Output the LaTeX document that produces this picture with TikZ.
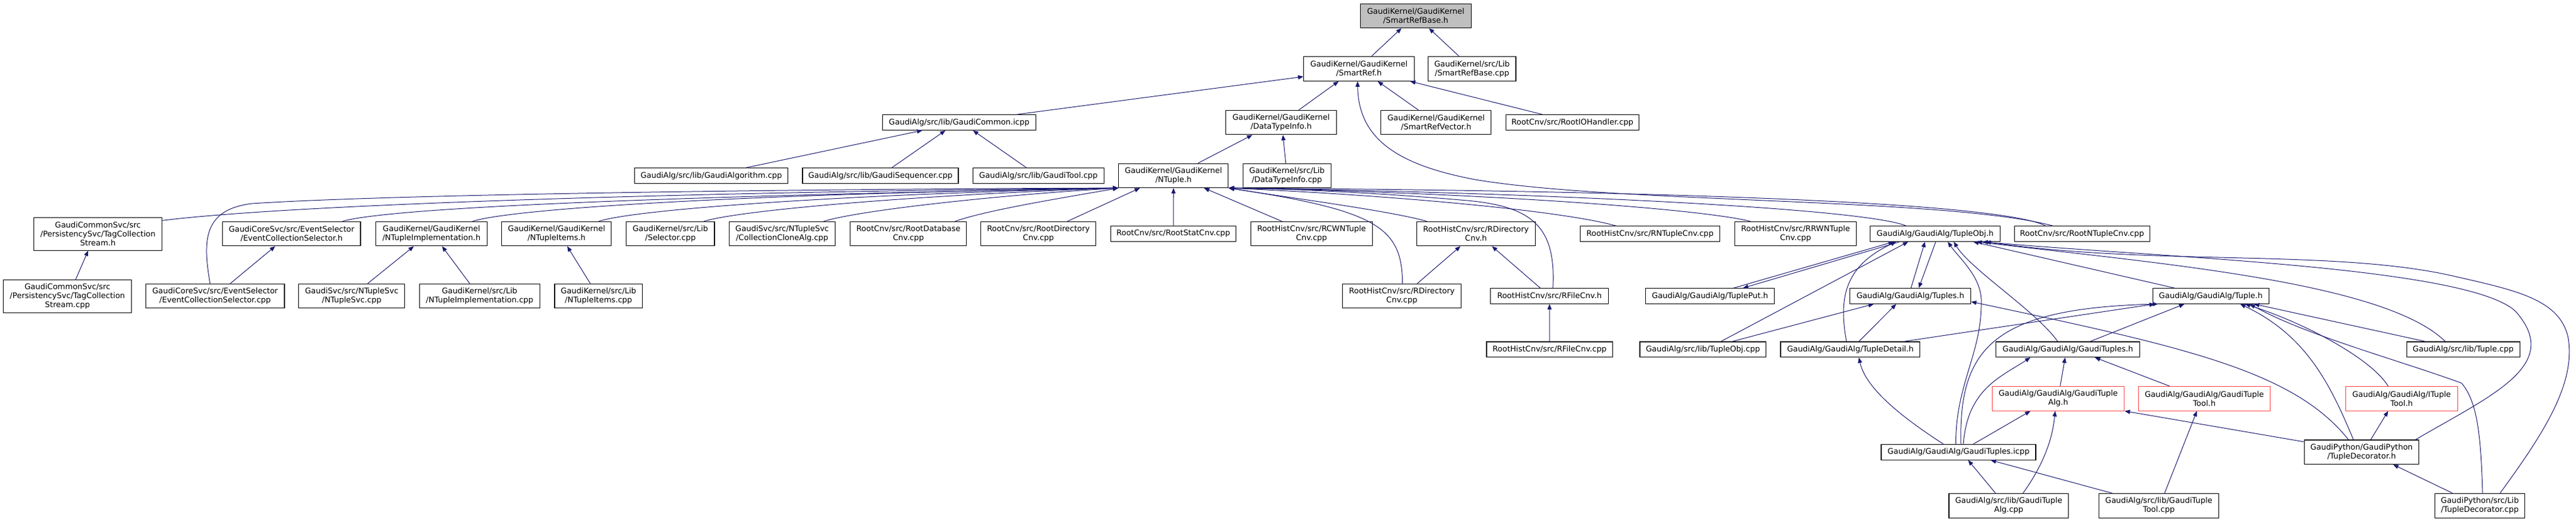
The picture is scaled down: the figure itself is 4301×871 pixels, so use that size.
\documentclass[tikz,border=0pt]{standalone}
\usepackage{fontspec}
\setmainfont{DejaVu Sans}
\usetikzlibrary{arrows.meta}

\definecolor{edgeblue}{HTML}{191970}
\definecolor{truncred}{HTML}{FF4040}
\definecolor{rootgray}{HTML}{BFBFBF}

\tikzset{
  box/.style={draw=black,line width=1.1pt,fill=white,inner sep=0pt,align=center,
    font=\fontsize{13}{15}\selectfont},
  one/.style={minimum height=25.6pt},
  two/.style={minimum height=40.5pt},
  three/.style={minimum height=54.7pt},
  cut/.style={draw=truncred},
  dep/.style={draw=edgeblue,line width=1pt,-{Triangle[length=9pt,width=7pt]}},
}

\begin{document}
\begin{tikzpicture}[x=1pt,y=-1pt]
      \useasboundingbox (0,0) rectangle (4301,871);
      % top: the file itself and its direct includers
      \node[box,two,fill=rootgray,minimum width=184.5pt] (smartrefbaseh) at (2363.8,26.3) {GaudiKernel/GaudiKernel\\/SmartRefBase.h};
      \node[box,two,minimum width=184.5pt] (smartrefh) at (2269,115) {GaudiKernel/GaudiKernel\\/SmartRef.h};
      \node[box,two,minimum width=146.6pt] (smartrefbasecpp) at (2457.7,115) {GaudiKernel/src/Lib\\/SmartRefBase.cpp};
      % second level
      \node[box,one,minimum width=256pt] (gaudicommon) at (1601.5,204.5) {GaudiAlg/src/lib/GaudiCommon.icpp};
      \node[box,two,minimum width=184.5pt] (datatypeinfoh) at (2139,204.6) {GaudiKernel/GaudiKernel\\/DataTypeInfo.h};
      \node[box,two,minimum width=183.8pt] (smartrefvector) at (2397.8,204.6) {GaudiKernel/GaudiKernel\\/SmartRefVector.h};
      \node[box,one,minimum width=222.4pt] (rootiohandler) at (2625.4,204.5) {RootCnv/src/RootIOHandler.cpp};
      % third level
      \node[box,one,minimum width=256pt] (gaudialgorithm) at (1187.6,293.5) {GaudiAlg/src/lib/GaudiAlgorithm.cpp};
      \node[box,one,minimum width=260pt] (gaudisequencer) at (1470,293.5) {GaudiAlg/src/lib/GaudiSequencer.cpp};
      \node[box,one,minimum width=219pt] (gauditool) at (1733.8,293.5) {GaudiAlg/src/lib/GaudiTool.cpp};
      \node[box,two,minimum width=183pt] (ntupleh) at (1959.3,293.3) {GaudiKernel/GaudiKernel\\/NTuple.h};
      \node[box,two,minimum width=147.3pt] (datatypeinfocpp) at (2148.7,293.3) {GaudiKernel/src/Lib\\/DataTypeInfo.cpp};
      % includers of NTuple.h
      \node[box,three,minimum width=214.7pt] (tagstreamh) at (163.5,390.7) {GaudiCommonSvc/src\\/PersistencySvc/TagCollection\\Stream.h};
      \node[box,two,minimum width=230.1pt] (evtselh) at (486.9,390.5) {GaudiCoreSvc/src/EventSelector\\/EventCollectionSelector.h};
      \node[box,two,minimum width=186.6pt] (ntupleimplh) at (720.4,390.5) {GaudiKernel/GaudiKernel\\/NTupleImplementation.h};
      \node[box,two,minimum width=183.1pt] (ntupleitemsh) at (929.2,390.5) {GaudiKernel/GaudiKernel\\/NTupleItems.h};
      \node[box,two,minimum width=147.3pt] (selectorcpp) at (1119.3,390.5) {GaudiKernel/src/Lib\\/Selector.cpp};
      \node[box,two,minimum width=176.8pt] (clonealg) at (1305.9,390.5) {GaudiSvc/src/NTupleSvc\\/CollectionCloneAlg.cpp};
      \node[box,two,minimum width=194.3pt] (rootdbcnv) at (1516.7,390.5) {RootCnv/src/RootDatabase\\Cnv.cpp};
      \node[box,two,minimum width=192.2pt] (rootdircnv) at (1733.8,390.5) {RootCnv/src/RootDirectory\\Cnv.cpp};
      \node[box,one,minimum width=209.1pt] (rootstatcnv) at (1959,390.5) {RootCnv/src/RootStatCnv.cpp};
      \node[box,two,minimum width=202.7pt] (rcwntuple) at (2189.8,390.5) {RootHistCnv/src/RCWNTuple\\Cnv.cpp};
      \node[box,two,minimum width=197.8pt] (rdircnvh) at (2464.4,390.5) {RootHistCnv/src/RDirectory\\Cnv.h};
      \node[box,one,minimum width=232.9pt] (rntuplecnv) at (2754.9,390.5) {RootHistCnv/src/RNTupleCnv.cpp};
      \node[box,two,minimum width=203.1pt] (rrwntuple) at (2998,390.5) {RootHistCnv/src/RRWNTuple\\Cnv.cpp};
      \node[box,one,minimum width=216.5pt] (tupleobjh) at (3231,390.5) {GaudiAlg/GaudiAlg/TupleObj.h};
      \node[box,one,minimum width=225.7pt] (rootntuplecnv) at (3476.2,390.5) {RootCnv/src/RootNTupleCnv.cpp};
      % fifth level
      \node[box,three,minimum width=214pt] (tagstreamcpp) at (112.6,494.7) {GaudiCommonSvc/src\\/PersistencySvc/TagCollection\\Stream.cpp};
      \node[box,two,minimum width=231.5pt] (evtselcpp) at (359.2,494.5) {GaudiCoreSvc/src/EventSelector\\/EventCollectionSelector.cpp};
      \node[box,two,minimum width=176.8pt] (ntuplesvccpp) at (587.2,494.5) {GaudiSvc/src/NTupleSvc\\/NTupleSvc.cpp};
      \node[box,two,minimum width=201.3pt] (ntupleimplcpp) at (800.8,494.5) {GaudiKernel/src/Lib\\/NTupleImplementation.cpp};
      \node[box,two,minimum width=146.6pt] (ntupleitemscpp) at (999.3,494.5) {GaudiKernel/src/Lib\\/NTupleItems.cpp};
      \node[box,two,minimum width=198.5pt] (rdircnvcpp) at (2340.6,494.5) {RootHistCnv/src/RDirectory\\Cnv.cpp};
      \node[box,one,minimum width=196.4pt] (rfilecnvh) at (2587.1,494.5) {RootHistCnv/src/RFileCnv.h};
      \node[box,one,minimum width=214.7pt] (tupleputh) at (2855.1,494.5) {GaudiAlg/GaudiAlg/TuplePut.h};
      \node[box,one,minimum width=201.6pt] (tuplesh) at (3189.6,494.5) {GaudiAlg/GaudiAlg/Tuples.h};
      \node[box,one,minimum width=194.1pt] (tupleh) at (3691.2,494.5) {GaudiAlg/GaudiAlg/Tuple.h};
      % sixth level
      \node[box,one,minimum width=210.4pt] (rfilecnvcpp) at (2587.2,583.8) {RootHistCnv/src/RFileCnv.cpp};
      \node[box,one,minimum width=210.4pt] (tupleobjcpp) at (2843.2,583.8) {GaudiAlg/src/lib/TupleObj.cpp};
      \node[box,one,minimum width=232.8pt] (tupledetailh) at (3089.4,583.8) {GaudiAlg/GaudiAlg/TupleDetail.h};
      \node[box,one,minimum width=239.8pt] (gaudituplesh) at (3452.6,583.8) {GaudiAlg/GaudiAlg/GaudiTuples.h};
      \node[box,one,minimum width=189.2pt] (tuplecpp) at (4112.6,583.8) {GaudiAlg/src/lib/Tuple.cpp};
      % truncated nodes (red frame)
      \node[box,two,cut,minimum width=220.7pt] (gtalgh) at (3436.4,665.8) {GaudiAlg/GaudiAlg/GaudiTuple\\Alg.h};
      \node[box,two,cut,minimum width=220.7pt] (gttoolh) at (3680.4,665.8) {GaudiAlg/GaudiAlg/GaudiTuple\\Tool.h};
      \node[box,two,cut,minimum width=187.5pt] (itupletoolh) at (4009.8,665.8) {GaudiAlg/GaudiAlg/ITuple\\Tool.h};
      % bottom levels
      \node[box,one,minimum width=258pt] (gaudituplesicpp) at (3270,755.3) {GaudiAlg/GaudiAlg/GaudiTuples.icpp};
      \node[box,two,minimum width=191.7pt] (tupledecorh) at (3943,755.2) {GaudiPython/GaudiPython\\/TupleDecorator.h};
      \node[box,two,minimum width=199.9pt] (gtalgcpp) at (3353.9,844.8) {GaudiAlg/src/lib/GaudiTuple\\Alg.cpp};
      \node[box,two,minimum width=199.9pt] (gttoolcpp) at (3604.5,844.8) {GaudiAlg/src/lib/GaudiTuple\\Tool.cpp};
      \node[box,two,minimum width=150.2pt] (tupledecorcpp) at (4140.4,844.8) {GaudiPython/src/Lib\\/TupleDecorator.cpp};

      % straight includes: source top -> target bottom (shifts in px)
      \foreach \s/\a/\t/\b in {smartrefh/20.7/smartrefbaseh/-23.8, smartrefbasecpp/-21.4/smartrefbaseh/22,
          datatypeinfoh/29.4/smartrefh/-34, smartrefvector/-29.5/smartrefh/31.2, rootiohandler/-50.2/smartrefh/85.3,
          ntupleh/41/datatypeinfoh/-48, datatypeinfocpp/-2/datatypeinfoh/3,
          gaudialgorithm/58/gaudicommon/-61.5, gaudisequencer/19/gaudicommon/-23, gauditool/-20/gaudicommon/23,
          rootdircnv/48.4/ntupleh/-56, rootstatcnv/0/ntupleh/0, rcwntuple/-49.5/ntupleh/51,
          tagstreamcpp/13.7/tagstreamh/-16.2, evtselcpp/25.2/evtselh/-27.4, ntuplesvccpp/26.6/ntupleimplh/-29.4,
          ntupleimplcpp/-16.5/ntupleimplh/17.6, ntupleitemscpp/-13.7/ntupleitemsh/17.8,
          rdircnvcpp/25.6/rdircnvh/-26, rfilecnvh/-15.4/rdircnvh/26.6, rfilecnvcpp/0/rfilecnvh/0,
          tupleputh/39.3/tupleobjh/-69, tuplesh/1/tupleobjh/-17, tupleobjcpp/30/tupleobjh/-45,
          tupleobjcpp/48.8/tuplesh/-61, tupledetailh/14.3/tuplesh/-23.6, tupledetailh/89/tupleh/-93.5,
          gaudituplesh/37/tupleh/-44, tupleh/-60.6/tupleobjh/63.5, tuplecpp/-63/tupleh/72,
          tupledecorcpp/-45.2/tupledecorh/52.6, tupledecorh/15.3/itupletoolh/-22.5,
          gtalgh/3.3/gaudituplesh/-4.6, gttoolh/-58/gaudituplesh/45,
          gtalgcpp/-22/gaudituplesicpp/16, gttoolcpp/-77.6/gaudituplesicpp/53.6, gttoolcpp/9.5/gttoolh/-12.4,
          gaudituplesicpp/24.5/gtalgh/-46.4}{
        \draw[dep] ([xshift=\a]\s.north) -- ([xshift=\b]\t.south);
      }
      % mutual includes, drawn the other way
      \draw[dep] ([xshift=-59]tupleobjh.south) -- ([xshift=55]tupleputh.north);
      \draw[dep] ([xshift=1]tupleobjh.south) -- ([xshift=14]tuplesh.north);
      % side anchored ones
      \draw[dep] ([xshift=96.5]gaudicommon.north) -- ([yshift=-13]smartrefh.west);
      \draw[dep] ([yshift=17.2]tupledecorh.west) -- (gtalgh.south east);

      % long curves into NTuple.h, left bundle
      \draw[dep] ([yshift=22.4]tagstreamh.east) .. controls (500,340) and (1200,320) .. (ntupleh.south west);
      \draw[dep] ([xshift=-8.4]evtselcpp.north) .. controls (338,400) and (340,350) .. (421,340)
                 .. controls (700,322) and (1500,315) .. (ntupleh.south west);
      \draw[dep] ([xshift=84.8]evtselh.north) .. controls (640,350) and (1000,330) .. (ntupleh.south west);
      \draw[dep] ([xshift=68.8]ntupleimplh.north) .. controls (850,350) and (1200,325) .. (ntupleh.south west);
      \draw[dep] ([xshift=70.5]ntupleitemsh.north) .. controls (1060,350) and (1400,325) .. (ntupleh.south west);
      \draw[dep] ([xshift=56]selectorcpp.north) .. controls (1240,350) and (1550,325) .. (ntupleh.south west);
      \draw[dep] ([xshift=69.4]clonealg.north) .. controls (1440,350) and (1680,325) .. (ntupleh.south west);
      \draw[dep] ([xshift=78]rootdbcnv.north) .. controls (1650,350) and (1790,328) .. (ntupleh.south west);
      % right bundle
      \draw[dep] ([xshift=-82]rdircnvh.north) .. controls (2320,352) and (2150,330) .. (ntupleh.south east);
      \draw[dep] ([xshift=1]rdircnvcpp.north) .. controls (2341,380) and (2300,352) .. (ntupleh.south east);
      \draw[dep] ([xshift=5.7]rfilecnvh.north) .. controls (2598,380) and (2560,345) .. (2450,335)
                 .. controls (2300,322) and (2150,315) .. (ntupleh.south east);
      \draw[dep] ([xshift=-57]rntuplecnv.north) .. controls (2600,350) and (2300,325) .. (ntupleh.south east);
      \draw[dep] ([xshift=-75.5]rrwntuple.north) .. controls (2820,345) and (2400,320) .. (ntupleh.south east);
      \draw[dep] ([xshift=-48.5]tupleobjh.north) .. controls (3100,345) and (2500,320) .. (ntupleh.south east);
      \draw[dep] ([xshift=-61]rootntuplecnv.north) .. controls (3330,335) and (2700,318) .. (ntupleh.south east);
      % RootNTupleCnv.cpp up to SmartRef.h
      \draw[dep] ([xshift=-49]rootntuplecnv.north) .. controls (3250,330) and (2700,340) .. (2463,300)
                 .. controls (2330,275) and (2268,230) .. ([xshift=-2.4]smartrefh.south);

      % tuple headers
      \draw[dep] ([xshift=-6.4]tupledetailh.north) .. controls (3070,500) and (3078,445) .. ([xshift=-65]tupleobjh.south);
      \draw[dep] ([xshift=-4.5]gaudituplesicpp.north) .. controls (3265,640) and (3310,590) .. (3308,500)
                 .. controls (3306,460) and (3270,430) .. ([xshift=21]tupleobjh.south);
      \draw[dep] ([xshift=-17]gaudituplesh.north) .. controls (3400,520) and (3290,450) .. ([xshift=31]tupleobjh.south);
      \draw[dep] ([xshift=4]gaudituplesicpp.north) .. controls (3270,580) and (3330,515) .. ([xshift=-88]tupleh.south);
      \draw[dep] ([xshift=8]gaudituplesicpp.north) .. controls (3285,650) and (3340,630) .. ([xshift=-62.6]gaudituplesh.south);
      \draw[dep] ([xshift=-25]gaudituplesicpp.north) .. controls (3180,700) and (3115,650) .. ([xshift=14.3]tupledetailh.south);
      \draw[dep] ([xshift=23.6]gtalgcpp.north) .. controls (3420,765) and (3428,720) .. ([xshift=-5]gtalgh.south);
      \draw[dep] ([xshift=-22.5]itupletoolh.north) .. controls (3960,600) and (3850,540) .. ([xshift=57]tupleh.south);
      \draw[dep] ([xshift=-13.7]tupledecorh.north) .. controls (3890,640) and (3850,560) .. ([xshift=49]tupleh.south);
      \draw[dep] ([xshift=4.6]tupledecorcpp.north) .. controls (4142,720) and (4135,670) .. (4110,640)
                 .. controls (4000,600) and (3850,560) .. ([xshift=65]tupleh.south);
      \draw[dep] ([xshift=-22]tupledecorh.north) .. controls (3830,620) and (3650,580) .. ([yshift=-9.5]tuplesh.east);
      \draw[dep] ([xshift=-29.8]tuplecpp.north) .. controls (3980,470) and (3600,440) .. ([xshift=69]tupleobjh.south);
      \draw[dep] ([xshift=90]tupledecorh.north) .. controls (4160,660) and (4280,610) .. (4200,520)
                 .. controls (4120,445) and (3600,430) .. ([xshift=79]tupleobjh.south);
      \draw[dep] ([xshift=33.6]tupledecorcpp.north) .. controls (4250,720) and (4300,640) .. (4288,565)
                 .. controls (4275,500) and (4200,485) .. (4100,462)
                 .. controls (3900,415) and (3600,445) .. ([xshift=84]tupleobjh.south);
    \end{tikzpicture}
\end{document}
